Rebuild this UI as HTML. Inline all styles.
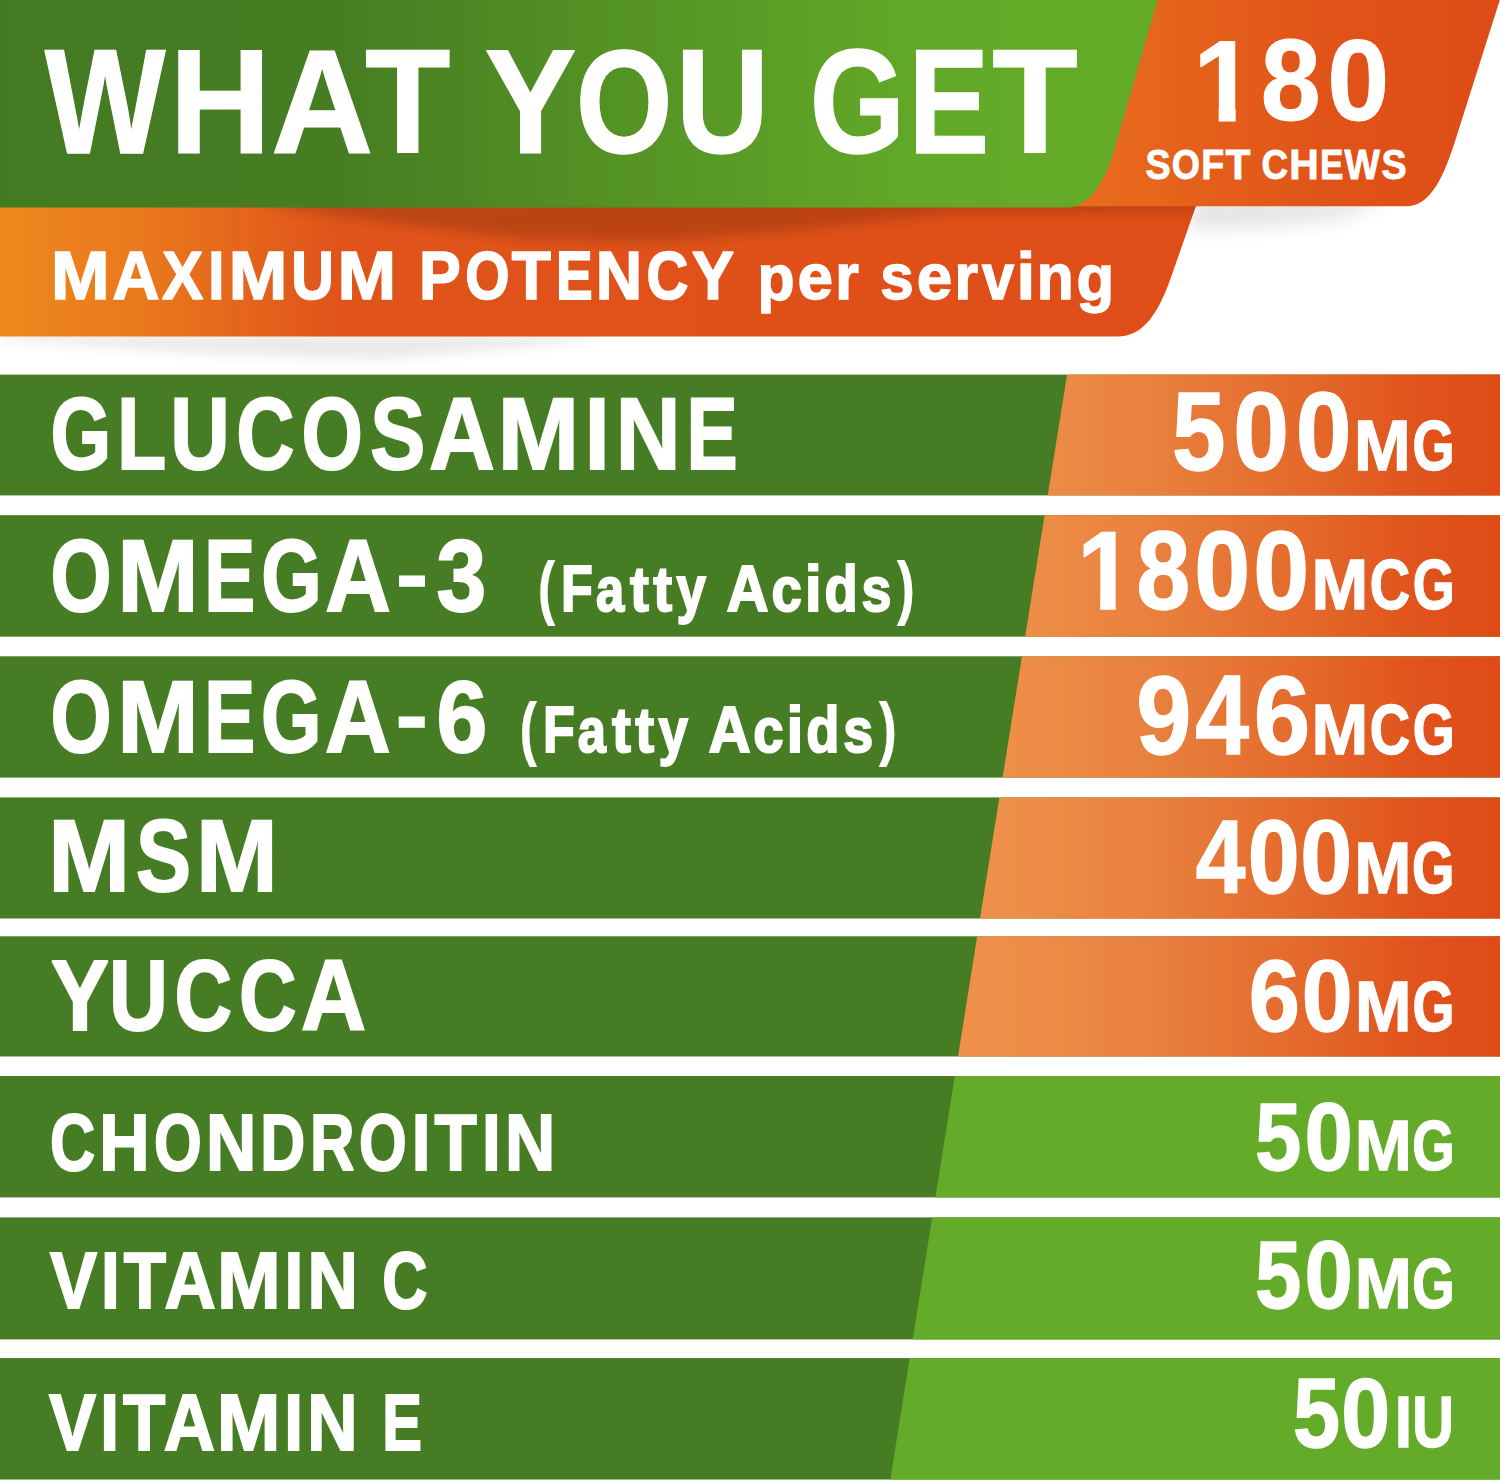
<!DOCTYPE html>
<html><head><meta charset="utf-8">
<style>
html,body{margin:0;padding:0;background:#fff;}
body{width:1500px;height:1482px;overflow:hidden;position:relative;}
svg{display:block;position:absolute;left:0;top:0;}
text{font-family:"Liberation Sans",sans-serif;font-weight:bold;fill:#fff;font-size:100px;stroke:#fff;vector-effect:non-scaling-stroke;stroke-linejoin:miter;stroke-miterlimit:2;}
</style></head><body>
<svg width="1500" height="1482" viewBox="0 0 1500 1482">
<defs>
  <linearGradient id="gHead" x1="0" y1="0" x2="1160" y2="0" gradientUnits="userSpaceOnUse">
    <stop offset="0" stop-color="#447A22"/>
    <stop offset="0.28" stop-color="#467C22"/>
    <stop offset="0.79" stop-color="#62A927"/>
    <stop offset="1" stop-color="#64AB27"/>
  </linearGradient>
  <linearGradient id="gChews" x1="1080" y1="0" x2="1500" y2="0" gradientUnits="userSpaceOnUse">
    <stop offset="0" stop-color="#E96C1E"/>
    <stop offset="0.6" stop-color="#E05318"/>
    <stop offset="1" stop-color="#DE4B17"/>
  </linearGradient>
  <linearGradient id="gBand" x1="0" y1="0" x2="1200" y2="0" gradientUnits="userSpaceOnUse">
    <stop offset="0" stop-color="#EE881D"/>
    <stop offset="0.12" stop-color="#E9781D"/>
    <stop offset="0.28" stop-color="#E0541A"/>
    <stop offset="1" stop-color="#DF4D18"/>
  </linearGradient>
  <linearGradient id="gRowO" x1="1000" y1="0" x2="1500" y2="0" gradientUnits="userSpaceOnUse">
    <stop offset="0" stop-color="#EE9049"/>
    <stop offset="0.3" stop-color="#E9813E"/>
    <stop offset="0.6" stop-color="#E46A2C"/>
    <stop offset="0.84" stop-color="#E0531C"/>
    <stop offset="1" stop-color="#DF4B17"/>
  </linearGradient>
  <filter id="blur6" x="-20%" y="-100%" width="140%" height="300%"><feGaussianBlur stdDeviation="6"/></filter>
  <filter id="blur9" x="-20%" y="-100%" width="140%" height="300%"><feGaussianBlur stdDeviation="9"/></filter>
  <clipPath id="clipBand"><path d="M0,205 L1196.3,205 L1170.92,277.6 C1156.47,318.9 1140.37,336.6 1117.27,336.6 L0,336.6 Z"/></clipPath>
  <clipPath id="clip1" clipPathUnits="userSpaceOnUse"><rect x="-10" y="-75" width="120" height="63.4"/><rect x="22.6" y="-12" width="15.2" height="14"/></clipPath>
</defs>

<!-- shadows on white -->
<path d="M0,334 L620,334 L540,346 L380,360 L200,354 L0,340 Z" fill="#000" opacity="0.08" filter="url(#blur6)"/>
<path d="M1190,198 L1390,198 L1340,220 L1250,228 L1190,230 Z" fill="#000" opacity="0.10" filter="url(#blur9)"/>

<!-- lower orange band -->
<path d="M0,205 L1196.3,205 L1170.92,277.6 C1156.47,318.9 1140.37,336.6 1117.27,336.6 L0,336.6 Z" fill="url(#gBand)"/>
<g clip-path="url(#clipBand)">
  <path d="M250,198 L1210,198 L1210,211 L950,213 L800,230 L650,242 L520,238 L400,224 L280,208 Z" fill="#000" opacity="0.16" filter="url(#blur6)"/>
</g>

<!-- 180 soft chews shape -->
<path d="M1100,0 L1499.8,0 L1454.72,142.2 C1440.52,187 1426.03,206.2 1406.43,206.2 L1050,206.2 Z" fill="url(#gChews)"/>

<!-- header green -->
<path d="M0,0 L1157.7,0 L1113.19,153.5 C1103.79,185.9 1085.53,207.5 1067.53,207.5 L0,207.5 Z" fill="url(#gHead)"/>

<!-- rows -->
<rect x="0" y="374.6" width="1500" height="120.8" fill="#467C23"/>
<path d="M1067.1,374.6 L1500,374.6 L1500,495.4 L1047.7,495.4 Z" fill="url(#gRowO)"/>
<rect x="0" y="515.2" width="1500" height="121.5" fill="#467C23"/>
<path d="M1044.6,515.2 L1500,515.2 L1500,636.7 L1025.1,636.7 Z" fill="url(#gRowO)"/>
<rect x="0" y="656.3" width="1500" height="121.3" fill="#467C23"/>
<path d="M1022.0,656.3 L1500,656.3 L1500,777.6 L1002.6,777.6 Z" fill="url(#gRowO)"/>
<rect x="0" y="797.4" width="1500" height="121.1" fill="#467C23"/>
<path d="M999.4,797.4 L1500,797.4 L1500,918.5 L980.0,918.5 Z" fill="url(#gRowO)"/>
<rect x="0" y="936.3" width="1500" height="120.2" fill="#467C23"/>
<path d="M977.2,936.3 L1500,936.3 L1500,1056.5 L958.0,1056.5 Z" fill="url(#gRowO)"/>
<rect x="0" y="1076.0" width="1500" height="121.4" fill="#467C23"/>
<path d="M954.8,1076.0 L1500,1076.0 L1500,1197.4 L935.4,1197.4 Z" fill="#63AB28"/>
<rect x="0" y="1217.4" width="1500" height="122.0" fill="#467C23"/>
<path d="M932.2,1217.4 L1500,1217.4 L1500,1339.4 L912.7,1339.4 Z" fill="#63AB28"/>
<rect x="0" y="1358.1" width="1500" height="121.4" fill="#467C23"/>
<path d="M909.7,1358.1 L1500,1358.1 L1500,1479.5 L890.3,1479.5 Z" fill="#63AB28"/>
<g stroke-width="1.2"><text transform="matrix(1.2796,0,0,1.4768,44.68,152.90)">W</text><text transform="matrix(1.4039,0,0,1.4768,169.45,152.90)">H</text><text transform="matrix(1.4186,0,0,1.4768,271.01,152.90)">A</text><text transform="matrix(1.4004,0,0,1.4768,365.00,152.90)">T</text><text transform="matrix(1.3869,0,0,1.4768,484.29,152.90)">Y</text><text transform="matrix(1.2438,0,0,1.4749,575.71,152.87)">O</text><text transform="matrix(1.2921,0,0,1.4763,675.81,152.87)">U</text><text transform="matrix(1.2263,0,0,1.4759,809.79,152.87)">G</text><text transform="matrix(1.2081,0,0,1.4768,908.58,152.90)">E</text><text transform="matrix(1.4004,0,0,1.4768,992.36,152.90)">T</text></g>
<g stroke-width="1.0"><text transform="matrix(1.1191,0,0,1.1513,1193.35,120.50)" clip-path="url(#clip1)">1</text><text transform="matrix(1.0763,0,0,1.1491,1260.85,120.48)">8</text><text transform="matrix(1.1161,0,0,1.1483,1327.31,120.48)">0</text></g>
<g stroke-width="0.8"><text transform="matrix(0.3772,0,0,0.4313,1145.51,179.40)">S</text><text transform="matrix(0.3626,0,0,0.4313,1171.83,179.40)">O</text><text transform="matrix(0.3761,0,0,0.4317,1201.36,179.40)">F</text><text transform="matrix(0.4080,0,0,0.4317,1225.51,179.40)">T</text><text transform="matrix(0.3687,0,0,0.4316,1261.38,179.40)">C</text><text transform="matrix(0.4090,0,0,0.4317,1289.19,179.40)">H</text><text transform="matrix(0.3505,0,0,0.4317,1319.92,179.40)">E</text><text transform="matrix(0.3749,0,0,0.4317,1344.38,179.40)">W</text><text transform="matrix(0.3772,0,0,0.4313,1381.61,179.40)">S</text></g>
<g stroke-width="1.6"><text transform="matrix(0.7039,0,0,0.6788,51.09,299.20)">M</text><text transform="matrix(0.6511,0,0,0.6788,112.46,299.20)">A</text><text transform="matrix(0.6175,0,0,0.6788,162.00,299.20)">X</text><text transform="matrix(0.5798,0,0,0.6788,208.25,299.20)">I</text><text transform="matrix(0.7039,0,0,0.6788,228.85,299.20)">M</text><text transform="matrix(0.5898,0,0,0.6788,291.28,299.20)">U</text><text transform="matrix(0.7039,0,0,0.6788,337.52,299.20)">M</text><text transform="matrix(0.6259,0,0,0.6788,418.91,299.20)">P</text><text transform="matrix(0.5695,0,0,0.6783,465.37,299.20)">O</text><text transform="matrix(0.6404,0,0,0.6788,511.80,299.20)">T</text><text transform="matrix(0.5492,0,0,0.6788,556.05,299.20)">E</text><text transform="matrix(0.6414,0,0,0.6788,595.87,299.20)">N</text><text transform="matrix(0.5788,0,0,0.6788,646.54,299.20)">C</text><text transform="matrix(0.6353,0,0,0.6788,691.75,299.20)">Y</text></g>
<g stroke-width="1.4"><text transform="matrix(0.6070,0,0,0.6479,757.50,299.50)">p</text><text transform="matrix(0.6382,0,0,0.6464,797.38,299.32)">e</text><text transform="matrix(0.6063,0,0,0.6453,835.23,299.30)">r</text><text transform="matrix(0.6011,0,0,0.6458,880.17,299.33)">s</text><text transform="matrix(0.6382,0,0,0.6464,916.72,299.32)">e</text><text transform="matrix(0.6063,0,0,0.6453,954.57,299.30)">r</text><text transform="matrix(0.5769,0,0,0.6454,982.05,299.30)">v</text><text transform="matrix(0.6727,0,0,0.6653,1016.51,299.30)">i</text><text transform="matrix(0.6056,0,0,0.6453,1036.72,299.30)">n</text><text transform="matrix(0.6180,0,0,0.6494,1076.38,299.52)">g</text></g>
<g stroke-width="1.8"><text transform="matrix(0.7802,0,0,1.0202,50.40,468.89)">G</text><text transform="matrix(0.8066,0,0,1.0204,116.90,468.90)">L</text><text transform="matrix(0.8240,0,0,1.0203,170.32,468.89)">U</text><text transform="matrix(0.8060,0,0,1.0202,236.24,468.89)">C</text><text transform="matrix(0.7890,0,0,1.0195,301.52,468.89)">O</text><text transform="matrix(0.8255,0,0,1.0195,370.16,468.89)">S</text><text transform="matrix(0.9118,0,0,1.0204,429.05,468.90)">A</text><text transform="matrix(0.9817,0,0,1.0204,497.60,468.90)">M</text><text transform="matrix(0.8947,0,0,1.0204,584.86,468.90)">I</text><text transform="matrix(0.8963,0,0,1.0204,615.67,468.90)">N</text><text transform="matrix(0.7669,0,0,1.0204,686.44,468.90)">E</text></g>
<g stroke-width="1.8"><text transform="matrix(0.7856,0,0,1.0151,50.38,610.79)">O</text><text transform="matrix(0.9775,0,0,1.0160,117.25,610.80)">M</text><text transform="matrix(0.7636,0,0,1.0160,204.35,610.80)">E</text><text transform="matrix(0.7768,0,0,1.0158,261.21,610.79)">G</text><text transform="matrix(0.9079,0,0,1.0160,325.35,610.80)">A</text><text transform="matrix(0.9483,0,0,0.8182,396.29,602.17)">-</text><text transform="matrix(0.8950,0,0,1.0137,436.56,610.65)">3</text></g>
<g stroke-width="1.8"><text transform="matrix(0.5279,0,0,0.6950,537.67,610.70)" stroke-width="0.2">(</text><text transform="matrix(0.5205,0,0,0.6541,561.00,610.50)">F</text><text transform="matrix(0.5058,0,0,0.6254,595.90,610.53)">a</text><text transform="matrix(0.5682,0,0,0.6384,630.08,610.58)">t</text><text transform="matrix(0.5682,0,0,0.6384,653.27,610.58)">t</text><text transform="matrix(0.5292,0,0,0.6391,676.54,611.28)">y</text><text transform="matrix(0.5833,0,0,0.6541,726.59,610.50)">A</text><text transform="matrix(0.5443,0,0,0.6254,771.42,610.53)">c</text><text transform="matrix(0.6103,0,0,0.6461,804.79,610.50)">i</text><text transform="matrix(0.5444,0,0,0.6565,824.54,610.50)">d</text><text transform="matrix(0.5384,0,0,0.6249,861.45,610.53)">s</text><text transform="matrix(0.5461,0,0,0.6950,896.83,610.70)" stroke-width="0.2">)</text></g>
<g stroke-width="1.8"><text transform="matrix(0.7856,0,0,1.0151,50.38,751.99)">O</text><text transform="matrix(0.9775,0,0,1.0160,117.17,752.00)">M</text><text transform="matrix(0.7636,0,0,1.0160,204.19,752.00)">E</text><text transform="matrix(0.7768,0,0,1.0158,260.97,751.99)">G</text><text transform="matrix(0.9079,0,0,1.0160,325.04,752.00)">A</text><text transform="matrix(0.9483,0,0,0.8182,395.89,743.37)">-</text><text transform="matrix(0.9132,0,0,1.0120,436.51,752.00)">6</text></g>
<g stroke-width="1.8"><text transform="matrix(0.5279,0,0,0.6950,519.57,752.20)" stroke-width="0.2">(</text><text transform="matrix(0.5205,0,0,0.6541,542.89,752.00)">F</text><text transform="matrix(0.5058,0,0,0.6254,577.78,752.03)">a</text><text transform="matrix(0.5682,0,0,0.6384,611.95,752.08)">t</text><text transform="matrix(0.5682,0,0,0.6384,635.14,752.08)">t</text><text transform="matrix(0.5292,0,0,0.6391,658.40,752.78)">y</text><text transform="matrix(0.5833,0,0,0.6541,708.43,752.00)">A</text><text transform="matrix(0.5443,0,0,0.6254,753.25,752.03)">c</text><text transform="matrix(0.6103,0,0,0.6461,786.62,752.00)">i</text><text transform="matrix(0.5444,0,0,0.6565,806.36,752.00)">d</text><text transform="matrix(0.5384,0,0,0.6249,843.26,752.03)">s</text><text transform="matrix(0.5461,0,0,0.6950,878.63,752.20)" stroke-width="0.2">)</text></g>
<g stroke-width="1.8"><text transform="matrix(0.9817,0,0,1.0204,48.33,891.10)">M</text><text transform="matrix(0.8255,0,0,1.0195,135.94,891.09)">S</text><text transform="matrix(0.9817,0,0,1.0204,195.99,891.10)">M</text></g>
<g stroke-width="1.8"><text transform="matrix(0.8751,0,0,1.0087,50.70,1029.80)">Y</text><text transform="matrix(0.8145,0,0,1.0086,109.04,1029.79)">U</text><text transform="matrix(0.7967,0,0,1.0085,174.41,1029.79)">C</text><text transform="matrix(0.7967,0,0,1.0085,239.03,1029.79)">C</text><text transform="matrix(0.9014,0,0,1.0087,301.08,1029.80)">A</text></g>
<g stroke-width="1.8"><text transform="matrix(0.6265,0,0,0.7951,49.93,1169.70)">C</text><text transform="matrix(0.6978,0,0,0.7951,99.26,1169.70)">H</text><text transform="matrix(0.6136,0,0,0.7945,153.96,1169.70)">O</text><text transform="matrix(0.6968,0,0,0.7951,205.94,1169.70)">N</text><text transform="matrix(0.6224,0,0,0.7951,260.23,1169.70)">D</text><text transform="matrix(0.6169,0,0,0.7951,309.96,1169.70)">R</text><text transform="matrix(0.6136,0,0,0.7945,358.98,1169.70)">O</text><text transform="matrix(0.6752,0,0,0.7951,411.73,1169.70)">I</text><text transform="matrix(0.6923,0,0,0.7951,434.47,1169.70)">T</text><text transform="matrix(0.6752,0,0,0.7951,481.90,1169.70)">I</text><text transform="matrix(0.6968,0,0,0.7951,504.88,1169.70)">N</text></g>
<g stroke-width="1.8"><text transform="matrix(0.7054,0,0,0.7951,50.02,1308.30)">V</text><text transform="matrix(0.6752,0,0,0.7951,101.11,1308.30)">I</text><text transform="matrix(0.6923,0,0,0.7951,123.80,1308.30)">T</text><text transform="matrix(0.7098,0,0,0.7951,164.43,1308.30)">A</text><text transform="matrix(0.7648,0,0,0.7951,217.12,1308.30)">M</text><text transform="matrix(0.6752,0,0,0.7951,284.61,1308.30)">I</text><text transform="matrix(0.6968,0,0,0.7951,307.52,1308.30)">N</text><text transform="matrix(0.6265,0,0,0.7951,382.37,1308.30)">C</text></g>
<g stroke-width="1.8"><text transform="matrix(0.7054,0,0,0.7951,49.12,1449.50)">V</text><text transform="matrix(0.6752,0,0,0.7951,100.32,1449.50)">I</text><text transform="matrix(0.6923,0,0,0.7951,123.10,1449.50)">T</text><text transform="matrix(0.7098,0,0,0.7951,163.84,1449.50)">A</text><text transform="matrix(0.7648,0,0,0.7951,216.64,1449.50)">M</text><text transform="matrix(0.6752,0,0,0.7951,284.23,1449.50)">I</text><text transform="matrix(0.6968,0,0,0.7951,307.24,1449.50)">N</text><text transform="matrix(0.5949,0,0,0.7951,382.24,1449.50)">E</text></g>
<g stroke-width="1.3"><text transform="matrix(0.9623,0,0,1.1146,1172.09,470.33)">5</text><text transform="matrix(1.0028,0,0,1.1136,1233.25,470.33)">0</text><text transform="matrix(1.0028,0,0,1.1136,1295.69,470.33)">0</text></g>
<g stroke-width="1.3"><text transform="matrix(0.6810,0,0,0.7079,1354.09,470.35)">M</text><text transform="matrix(0.5410,0,0,0.7077,1412.62,470.35)">G</text></g>
<g stroke-width="1.3"><text transform="matrix(1.0183,0,0,1.1208,1077.19,609.45)" clip-path="url(#clip1)">1</text><text transform="matrix(0.9655,0,0,1.1187,1136.39,609.43)">8</text><text transform="matrix(1.0067,0,0,1.1179,1194.31,609.43)">0</text><text transform="matrix(1.0067,0,0,1.1179,1253.19,609.43)">0</text></g>
<g stroke-width="1.3"><text transform="matrix(0.6810,0,0,0.7079,1311.59,609.45)">M</text><text transform="matrix(0.5589,0,0,0.7077,1369.79,609.45)">C</text><text transform="matrix(0.5410,0,0,0.7077,1412.82,609.45)">G</text></g>
<g stroke-width="1.3"><text transform="matrix(0.9903,0,0,1.1207,1136.32,754.07)">9</text><text transform="matrix(0.9677,0,0,1.1250,1195.28,754.35)">4</text><text transform="matrix(1.0164,0,0,1.1203,1253.80,754.34)">6</text></g>
<g stroke-width="1.3"><text transform="matrix(0.6810,0,0,0.7079,1311.59,754.35)">M</text><text transform="matrix(0.5589,0,0,0.7077,1369.79,754.35)">C</text><text transform="matrix(0.5410,0,0,0.7077,1412.82,754.35)">G</text></g>
<g stroke-width="1.3"><text transform="matrix(0.8933,0,0,1.0393,1195.70,893.05)">4</text><text transform="matrix(0.9341,0,0,1.0381,1247.69,893.04)">0</text><text transform="matrix(0.9341,0,0,1.0381,1300.23,893.04)">0</text></g>
<g stroke-width="1.3"><text transform="matrix(0.6866,0,0,0.7137,1354.36,893.05)">M</text><text transform="matrix(0.5455,0,0,0.7135,1411.90,893.05)">G</text></g>
<g stroke-width="1.3"><text transform="matrix(0.9209,0,0,1.0161,1248.78,1030.94)">6</text><text transform="matrix(0.9169,0,0,1.0193,1301.71,1030.94)">0</text></g>
<g stroke-width="1.3"><text transform="matrix(0.6782,0,0,0.7050,1354.91,1030.95)">M</text><text transform="matrix(0.5388,0,0,0.7048,1412.38,1030.95)">G</text></g>
<g stroke-width="1.3"><text transform="matrix(0.8343,0,0,0.9679,1254.98,1169.74)">5</text><text transform="matrix(0.8694,0,0,0.9670,1304.56,1169.74)">0</text></g>
<g stroke-width="1.3"><text transform="matrix(0.6852,0,0,0.7122,1354.87,1169.75)">M</text><text transform="matrix(0.5444,0,0,0.7121,1412.28,1169.75)">G</text></g>
<g stroke-width="1.3"><text transform="matrix(0.8343,0,0,0.9679,1254.98,1308.04)">5</text><text transform="matrix(0.8694,0,0,0.9670,1304.56,1308.04)">0</text></g>
<g stroke-width="1.3"><text transform="matrix(0.6852,0,0,0.7122,1354.87,1308.05)">M</text><text transform="matrix(0.5444,0,0,0.7121,1412.28,1308.05)">G</text></g>
<g stroke-width="1.3"><text transform="matrix(0.8457,0,0,0.9809,1293.05,1446.54)">5</text><text transform="matrix(0.8813,0,0,0.9801,1341.35,1446.54)">0</text></g>
<g stroke-width="1.3"><text transform="matrix(0.6235,0,0,0.7137,1394.68,1446.55)">I</text><text transform="matrix(0.5761,0,0,0.7136,1412.26,1446.55)">U</text></g>
</svg>
</body></html>
